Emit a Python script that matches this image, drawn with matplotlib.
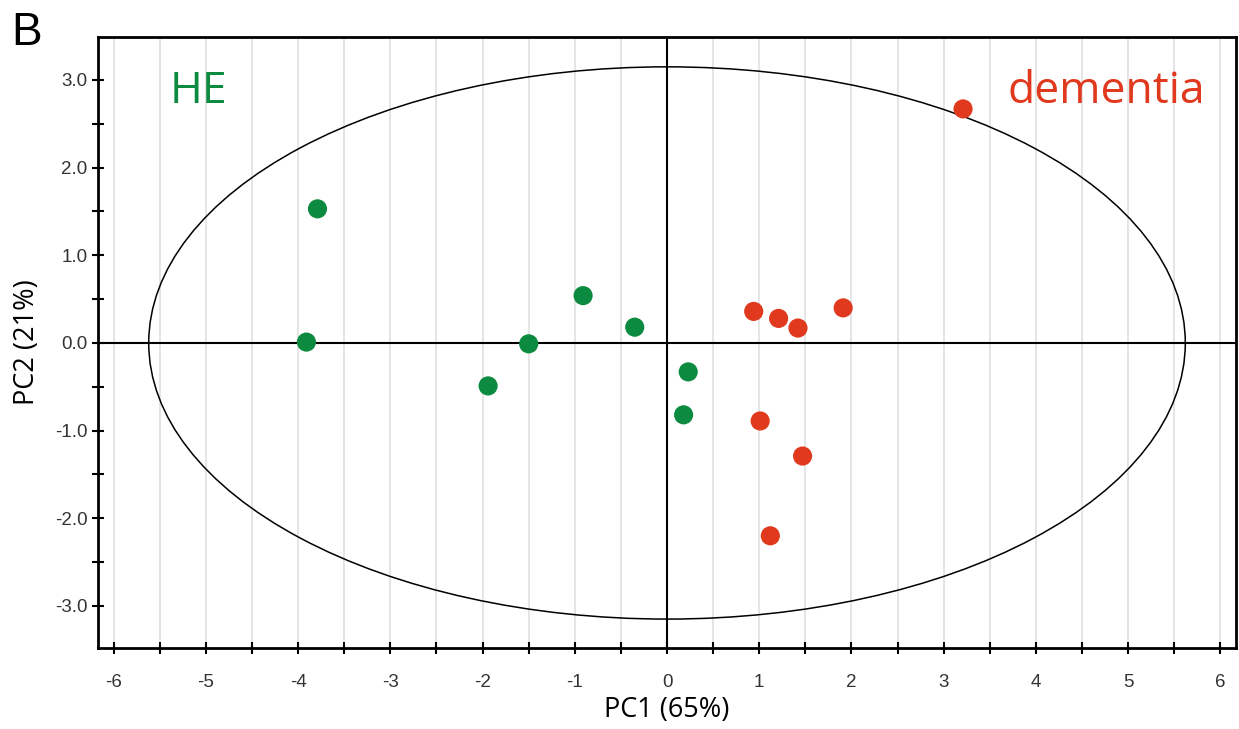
import numpy as np
import matplotlib
matplotlib.use("Agg")
import matplotlib.pyplot as plt
from matplotlib.patches import Ellipse
from matplotlib.ticker import MultipleLocator, FixedLocator

plt.rcParams['axes.unicode_minus'] = False

# Data
he_pc1 = [-3.79, -3.91, -0.91, -0.35, -1.50, -1.94, 0.23, 0.18]
he_pc2 = [1.53, 0.01, 0.54, 0.18, -0.01, -0.49, -0.33, -0.82]
dem_pc1 = [3.21, 0.94, 1.21, 1.42, 1.91, 1.01, 1.47, 1.12]
dem_pc2 = [2.67, 0.36, 0.28, 0.17, 0.40, -0.89, -1.29, -2.20]
ellipse_w = 5.62
ellipse_h = 3.15
x_ticks = [-6, -5, -4, -3, -2, -1, 0, 1, 2, 3, 4, 5, 6]
y_ticks = [-3.0, -2.0, -1.0, 0.0, 1.0, 2.0, 3.0]

green = '#0c8a40'
red = '#e0391d'

fig = plt.figure(figsize=(12.39, 7.29), dpi=100)
ax = fig.add_axes([0.0791, 0.1111, 0.9185, 0.8381])

ax.set_xlim(-6.17, 6.17)
ax.set_ylim(-3.48, 3.49)

# vertical grid lines
for gx in np.arange(-6, 6.01, 0.5):
    ax.axvline(gx, color='#e0e0e0', lw=1.2, zorder=0)

ax.axhline(0, color='black', lw=1.5, zorder=1)
ax.axvline(0, color='black', lw=1.5, zorder=1)

ax.add_patch(Ellipse((0, 0), 2 * ellipse_w, 2 * ellipse_h, fill=False,
                     edgecolor='black', lw=1.1, zorder=2))

ax.scatter(he_pc1, he_pc2, s=190, color=green, edgecolors='none', zorder=3)
ax.scatter(dem_pc1, dem_pc2, s=190, color=red, edgecolors='none', zorder=3)

ax.text(-5.39, 2.74, 'HE', color=green, fontsize=32, family='Open Sans',
        va='baseline', ha='left')
ax.text(5.84, 2.74, 'dementia', color=red, fontsize=32, family='Open Sans',
        va='baseline', ha='right')

ax.xaxis.set_major_locator(FixedLocator(x_ticks))
ax.xaxis.set_minor_locator(MultipleLocator(0.5))
ax.yaxis.set_major_locator(FixedLocator(y_ticks))
ax.yaxis.set_minor_locator(MultipleLocator(0.5))
ax.set_xticklabels([str(v) for v in x_ticks])
ax.set_yticklabels(['%.1f' % v for v in y_ticks])

ax.tick_params(which='both', direction='inout', length=9, width=1.5,
               color='black')
ax.tick_params(labelsize=13.5, labelcolor='#333333')
for lab in ax.get_xticklabels() + ax.get_yticklabels():
    lab.set_family('Liberation Sans')
ax.tick_params(axis='x', pad=14)
ax.tick_params(axis='y', pad=3)

for sp in ax.spines.values():
    sp.set_linewidth(2)
    sp.set_color('black')

ax.set_xlabel('PC1 (65%)', fontsize=19.5, family='Open Sans', labelpad=4)
ax.set_ylabel('PC2 (21%)', fontsize=19.5, family='Open Sans', labelpad=10)

fig.text(0.009, 0.985, 'B', fontsize=33, family='Liberation Sans',
         va='top', ha='left')

fig.savefig('out.png', dpi=100)
